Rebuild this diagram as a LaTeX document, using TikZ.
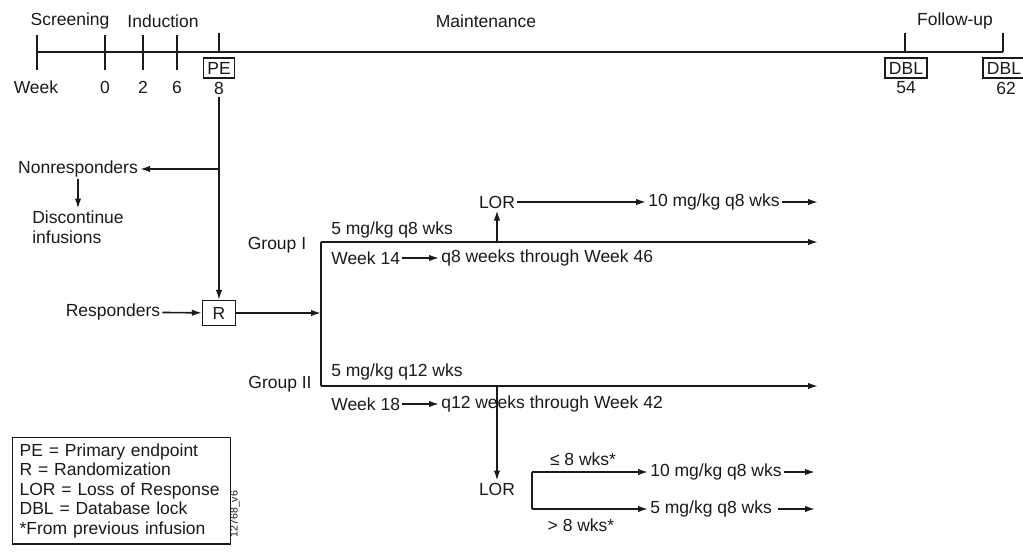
\documentclass[tikz,border=0pt]{standalone}
\usepackage{fontspec}
\setmainfont{Liberation Sans}
\usetikzlibrary{arrows.meta,positioning,calc}
\definecolor{inkcolor}{RGB}{25,25,30}

\begin{document}
\begin{tikzpicture}[x=1pt,y=-1pt,>={Latex[length=10pt,width=6.5pt]},line width=1.6pt,draw=inkcolor,
  every node/.style={font=\fontsize{17.5}{19.5}\selectfont,inner sep=1.5pt,text=inkcolor},
  tagbox/.style={draw,line width=1.3pt,inner xsep=4pt,inner ysep=1pt,minimum height=20pt}]
\useasboundingbox (0,0) rectangle (1023,558);
% timeline
\node (scr) at (70,21) {Screening};
\node (ind) at (163,21) {Induction};
\node (mnt) at (486,21) {Maintenance};
\node (fup) at (955,21) {Follow-up};
\coordinate (tls) at (37,52); \coordinate (tle) at (1003,52);
\draw (tls)--(tle);
\draw (37,35)--(37,70); \draw (105,35)--(105,70);
\draw[line width=2.6pt] (143,35)--(143,70); \draw[line width=2.6pt] (177,35)--(177,70);
\draw (219,33)--(219,52); \draw (905,33)--(905,52); \draw (1003,33)--(1003,52);
\node (wk) at (36,87) {Week};
\node (w0) at (105,87) {0};
\node (w2) at (143,87) {2};
\node (w6) at (177,87) {6};
\node[tagbox] (pe) at (219,68) {PE};
\node (w8) at (219,88) {8};
\node[tagbox] (dbla) at (906,68) {DBL};
\node (w54) at (906,88) {54};
\node[tagbox] (dblb) at (1004,68) {DBL};
\node (w62) at (1006,88) {62};
% randomization
\node[tagbox,minimum width=33pt,minimum height=25pt] (rbox) at (219,313) {R};
\node (resp) at (113,312) {Responders};
\node (nonr) at (78,169) {Nonresponders};
\node[align=left] (disc) at (78,227) {Discontinue\\infusions};
\coordinate (nrbr) at (219,169);
\draw[->] (w8.south)--(rbox.north);
\draw[->] (nrbr)--(nonr.east);
\draw[->] (nonr)--(disc);
\draw[->] (resp)--(rbox);
% groups
\coordinate (g1s) at (321,242); \coordinate (g1e) at (818,242);
\coordinate (g2s) at (321,386); \coordinate (g2e) at (818,386);
\draw[->] (rbox.east)--(rbox.east-|g1s);
\draw (g1s)--(g2s);
\draw[->] (g1s)--(g1e);
\draw[->] (g2s)--(g2e);
\node (grpa) at (277,245) {Group I};
\node (grpb) at (280,384) {Group II};
\node[anchor=west] (dosea) at (329,230) {5 mg/kg q8 wks};
\node[anchor=west] (wka) at (329,258) {Week 14};
\node[anchor=west] (qa) at (439,258) {q8 weeks through Week 46};
\draw[->] (wka)--(qa);
\node[anchor=west] (doseb) at (329,372) {5 mg/kg q12 wks};
\node[anchor=west] (wkb) at (329,404) {Week 18};
\node[anchor=west] (qb) at (439,404) {q12 weeks through Week 42};
\draw[->] (wkb)--(qb);
% loss of response, group I
\node (lora) at (497,202) {LOR};
\node[anchor=west] (tena) at (646,202) {10 mg/kg q8 wks};
\coordinate (tenae) at (818,202);
\draw[->] (lora|-g1s)--(lora);
\draw[->] (lora)--(tena);
\draw[->] (tena)--(tenae);
% loss of response, group II
\node (lorb) at (497,489) {LOR};
\draw[->] (lorb|-g2s)--(lorb);
\coordinate (brt) at (532,472); \coordinate (brb) at (532,509);
\node[anchor=west] (tenb) at (648,472) {10 mg/kg q8 wks};
\node[anchor=west] (fiveb) at (648,509) {5 mg/kg q8 wks};
\coordinate (tenbe) at (815,472); \coordinate (fivebe) at (815,509);
\draw (brt)--(brb);
\draw[->] (brt)--(tenb);
\draw[->] (brb)--(fiveb);
\draw[->] (tenb)--(tenbe);
\draw[->] ($(fiveb.east)+(4,0)$)--(fivebe);
\node (lea) at (583,459) {≤ 8 wks*};
\node (gtb) at (581,525) {> 8 wks*};
% legend
\node[draw,line width=1.3pt,anchor=north west,align=left,text width=204pt,inner xsep=7pt,inner ysep=6pt] (key) at (12,437)
  {PE = Primary endpoint\\R = Randomization\\LOR = Loss of Response\\DBL = Database lock\\\relax*From previous infusion};
\node[rotate=90,font=\fontsize{10.5}{10.5}\selectfont] (code) at (235,514) {12768\_v6};
\end{tikzpicture}
\end{document}
